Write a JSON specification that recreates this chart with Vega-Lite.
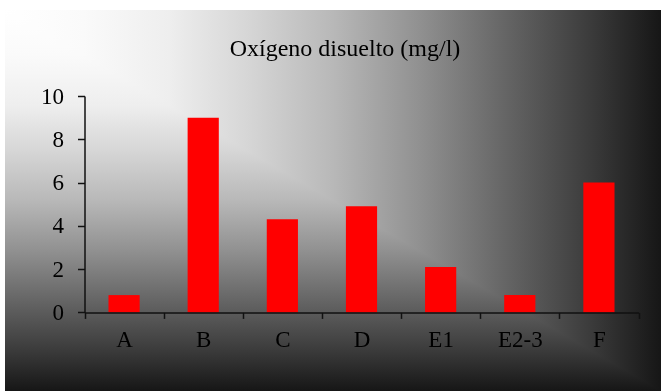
{
  "$schema": "https://vega.github.io/schema/vega-lite/v6.json",
  "width": 656,
  "height": 381,
  "autosize": "none",
  "padding": {"left": 5, "top": 10, "right": 0, "bottom": 0},
  "background": "#ffffff",
  "title": {
    "text": "Oxígeno disuelto (mg/l)",
    "font": "Liberation Serif",
    "fontSize": 24,
    "fontWeight": "normal",
    "color": "#000000",
    "anchor": "middle",
    "baseline": "alphabetic",
    "offset": -70,
    "dx": 12
  },
  "config": {"view": {"stroke": null}},
  "layer": [
    {
      "description": "Horizontal shading of the chart area, light on the left, dark on the right",
      "data": {"values": [{}]},
      "mark": {
        "type": "rect",
        "fill": {
          "gradient": "linear", "x1": 0, "y1": 0, "x2": 1, "y2": 0,
          "stops": [
            {"offset": 0, "color": "#ffffff"},
            {"offset": 0.12, "color": "#fafafa"},
            {"offset": 0.25, "color": "#eeeeee"},
            {"offset": 0.37, "color": "#d6d6d6"},
            {"offset": 0.5, "color": "#b8b8b8"},
            {"offset": 0.63, "color": "#919191"},
            {"offset": 0.76, "color": "#666666"},
            {"offset": 0.89, "color": "#3c3c3c"},
            {"offset": 1, "color": "#161616"}
          ]
        }
      },
      "encoding": {}
    },
    {
      "description": "Vertical shading; darken blending keeps the darker of the two, giving a from-corner fill",
      "data": {"values": [{}]},
      "mark": {
        "type": "rect",
        "blend": "darken",
        "fill": {
          "gradient": "linear", "x1": 0, "y1": 0, "x2": 0, "y2": 1,
          "stops": [
            {"offset": 0, "color": "#ffffff"},
            {"offset": 0.12, "color": "#fafafa"},
            {"offset": 0.25, "color": "#eeeeee"},
            {"offset": 0.37, "color": "#d6d6d6"},
            {"offset": 0.5, "color": "#b8b8b8"},
            {"offset": 0.63, "color": "#919191"},
            {"offset": 0.76, "color": "#666666"},
            {"offset": 0.89, "color": "#3c3c3c"},
            {"offset": 1, "color": "#161616"}
          ]
        }
      },
      "encoding": {}
    },
    {
      "data": {
        "values": [
          {"sitio": "A", "oxigeno": 0.8},
          {"sitio": "B", "oxigeno": 9.0},
          {"sitio": "C", "oxigeno": 4.3},
          {"sitio": "D", "oxigeno": 4.9},
          {"sitio": "E1", "oxigeno": 2.1},
          {"sitio": "E2-3", "oxigeno": 0.8},
          {"sitio": "F", "oxigeno": 6.0}
        ]
      },
      "mark": {"type": "bar", "color": "#ff0000", "width": {"band": 0.394}},
      "encoding": {
        "x": {
          "field": "sitio",
          "type": "nominal",
          "sort": null,
          "scale": {"range": [79.5, 633.5], "paddingInner": 0, "paddingOuter": 0},
          "axis": {
            "title": null,
            "orient": "bottom",
            "offset": -78.6,
            "zindex": 1,
            "labelAngle": 0,
            "labelFont": "Liberation Serif",
            "labelFontSize": 23,
            "labelColor": "#000000",
            "labelBaseline": "alphabetic",
            "labelPadding": 28,
            "domainColor": "#111111",
            "domainWidth": 1.5,
            "tickColor": "#111111",
            "tickWidth": 1.5,
            "tickSize": 6,
            "tickBand": "extent",
            "grid": false
          }
        },
        "y": {
          "field": "oxigeno",
          "type": "quantitative",
          "scale": {"domain": [0, 10], "range": [302.4, 86], "nice": false},
          "axis": {
            "title": null,
            "orient": "left",
            "offset": -79.5,
            "zindex": 1,
            "values": [0, 2, 4, 6, 8, 10],
            "labelFont": "Liberation Serif",
            "labelFontSize": 23,
            "labelColor": "#000000",
            "labelPadding": 14,
            "domainColor": "#111111",
            "domainWidth": 1.5,
            "tickColor": "#111111",
            "tickWidth": 1.5,
            "tickSize": 7,
            "grid": false
          }
        }
      }
    }
  ]
}
